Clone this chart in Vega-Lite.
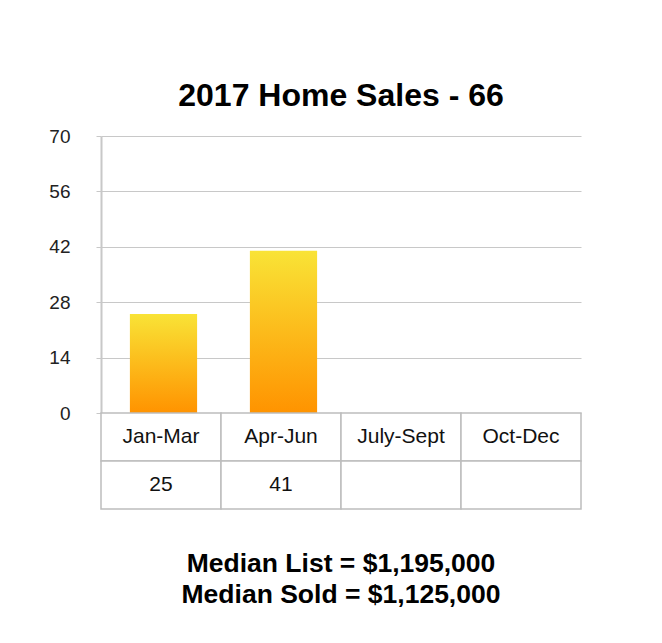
{
  "$schema": "https://vega.github.io/schema/vega-lite/v6.json",
  "padding": {"left": 48, "top": 80, "right": 5, "bottom": 5},
  "background": "white",
  "config": {"view": {"stroke": null}, "font": "Liberation Sans"},
  "spacing": 0,
  "bounds": "flush",
  "datasets": {
    "sales": [
      {"quarter": "Jan-Mar", "sales": 25},
      {"quarter": "Apr-Jun", "sales": 41},
      {"quarter": "July-Sept", "sales": null},
      {"quarter": "Oct-Dec", "sales": null}
    ],
    "table": [
      {"quarter": "Jan-Mar", "row": "name", "label": "Jan-Mar"},
      {"quarter": "Apr-Jun", "row": "name", "label": "Apr-Jun"},
      {"quarter": "July-Sept", "row": "name", "label": "July-Sept"},
      {"quarter": "Oct-Dec", "row": "name", "label": "Oct-Dec"},
      {"quarter": "Jan-Mar", "row": "value", "label": "25"},
      {"quarter": "Apr-Jun", "row": "value", "label": "41"},
      {"quarter": "July-Sept", "row": "value", "label": ""},
      {"quarter": "Oct-Dec", "row": "value", "label": ""}
    ]
  },
  "vconcat": [
    {
      "width": 480,
      "height": 277,
      "title": {
        "text": "2017 Home Sales - 66",
        "fontSize": 32,
        "fontWeight": "bold",
        "font": "Liberation Sans",
        "color": "#000",
        "frame": "group",
        "anchor": "middle",
        "baseline": "alphabetic",
        "offset": -11
      },
      "data": {"name": "sales"},
      "mark": {
        "type": "bar",
        "width": {"band": 0.56},
        "xOffset": 2.5,
        "color": {
          "gradient": "linear",
          "x1": 0, "y1": 0, "x2": 0, "y2": 1,
          "stops": [
            {"offset": 0, "color": "#f9e336"},
            {"offset": 1, "color": "#ff9300"}
          ]
        }
      },
      "encoding": {
        "x": {
          "field": "quarter",
          "type": "nominal",
          "sort": null,
          "scale": {"domain": ["Jan-Mar", "Apr-Jun", "July-Sept", "Oct-Dec"], "paddingInner": 0, "paddingOuter": 0},
          "axis": null
        },
        "y": {
          "field": "sales",
          "type": "quantitative",
          "scale": {"domain": [0, 70], "nice": false},
          "axis": {
            "values": [0, 14, 28, 42, 56, 70],
            "title": null,
            "grid": true,
            "gridColor": "#c8c8c8",
            "gridWidth": 1,
            "domainColor": "#c8c8c8",
            "domainWidth": 2,
            "tickColor": "#c8c8c8",
            "tickSize": 5,
            "labelPadding": 26,
            "labelFontSize": 19,
            "labelColor": "#222",
            "labelFont": "Liberation Sans"
          }
        }
      }
    },
    {
      "width": 480,
      "height": 96,
      "title": {
        "text": ["Median List = $1,195,000", "Median Sold = $1,125,000"],
        "orient": "bottom",
        "fontSize": 26.5,
        "fontWeight": "bold",
        "font": "Liberation Sans",
        "color": "#000",
        "frame": "group",
        "anchor": "middle",
        "baseline": "top",
        "lineHeight": 31,
        "offset": 41
      },
      "data": {"name": "table"},
      "encoding": {
        "x": {
          "field": "quarter",
          "type": "nominal",
          "sort": null,
          "scale": {"domain": ["Jan-Mar", "Apr-Jun", "July-Sept", "Oct-Dec"], "paddingInner": 0, "paddingOuter": 0},
          "axis": null
        },
        "y": {
          "field": "row",
          "type": "nominal",
          "scale": {"domain": ["name", "value"], "paddingInner": 0, "paddingOuter": 0},
          "axis": null
        }
      },
      "layer": [
        {"mark": {"type": "rect", "fill": "white", "stroke": "#bdbdbd", "strokeWidth": 1.5}},
        {
          "mark": {"type": "text", "fontSize": 21, "color": "#111", "font": "Liberation Sans"},
          "encoding": {"text": {"field": "label"}}
        }
      ]
    }
  ]
}
